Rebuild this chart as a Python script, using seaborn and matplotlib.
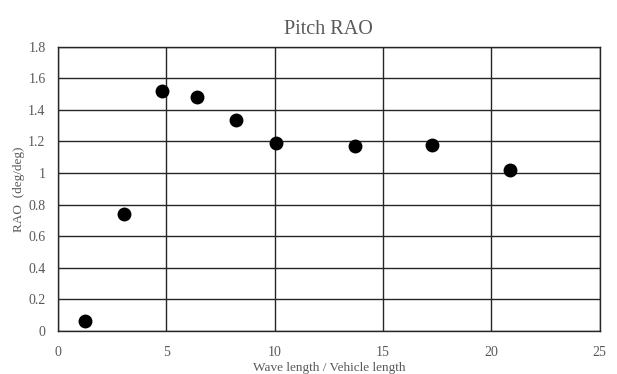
import matplotlib
matplotlib.use('Agg')
import matplotlib.pyplot as plt
import seaborn as sns
import pandas as pd
from matplotlib.ticker import FuncFormatter, MultipleLocator

# wave length / vehicle length vs pitch RAO
wave_ratio = [1.23, 3.03, 4.81, 6.4, 8.2, 10.04, 13.69, 17.25, 20.88]
rao = [0.063, 0.74, 1.52, 1.48, 1.335, 1.19, 1.17, 1.18, 1.02]

sns.set_style("white")
plt.rcParams["font.family"] = ["Liberation Serif", "DejaVu Serif"]

df = pd.DataFrame({"ratio": wave_ratio, "rao": rao})

fig = plt.figure(figsize=(6.17, 3.74), dpi=100)
ax = fig.add_axes([0.094, 0.115, 0.878, 0.76])
sns.scatterplot(data=df, x="ratio", y="rao", ax=ax, color="black",
                s=100, edgecolor="black", linewidth=0, zorder=3)

ax.set_xlim(0, 25)
ax.set_ylim(0, 1.8)
ax.xaxis.set_major_locator(MultipleLocator(5))
ax.yaxis.set_major_locator(MultipleLocator(0.2))
ax.yaxis.set_major_formatter(FuncFormatter(lambda v, p: "%g" % round(v, 1)))
ax.grid(True, color="#262626", linewidth=1.0)
ax.set_axisbelow(True)
for s in ax.spines.values():
    s.set_color("#262626")
    s.set_linewidth(1.0)
ax.tick_params(length=0, labelsize=10, labelcolor="#595959")
ax.tick_params(axis="x", pad=11)
ax.tick_params(axis="y", pad=9)

ax.set_xlabel("Wave length / Vehicle length", fontsize=9.5, color="#595959", labelpad=2)
ax.set_ylabel("RAO  (deg/deg)", fontsize=9.5, color="#595959", labelpad=2)
ax.set_title("Pitch RAO", fontsize=14.5, color="#595959", pad=9)

fig.savefig("out.png", dpi=100)
